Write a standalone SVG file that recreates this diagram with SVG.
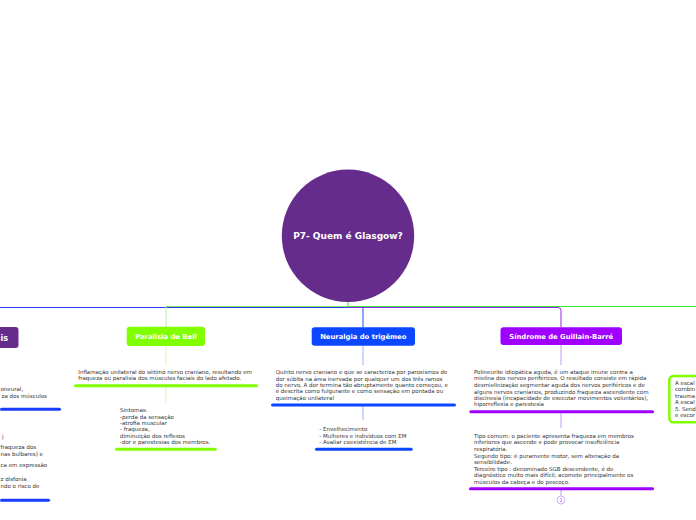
<svg xmlns="http://www.w3.org/2000/svg" width="696" height="520" viewBox="0 0 696 520">
<style>
.title{font-family:"DejaVu Sans",Verdana,sans-serif;font-weight:bold;fill:#fff;text-anchor:middle}
.body{font-family:"DejaVu Sans",Verdana,sans-serif;font-size:5.5px;fill:#333}
.ln{fill:none;stroke-width:1}
</style>
<rect width="696" height="520" fill="#fff"/>
<g id="connectors">
  <path class="ln" d="M348,302 V307" stroke="#33dd33"/>
  <path class="ln" d="M363,307.5 H0" stroke="#2a3cff"/>
  <path class="ln" d="M348,306.5 H166" stroke="#7be84a"/>
  <path class="ln" d="M348,307.5 H558 Q561,307.5 561,310.5 V327" stroke="#9b1ef0"/>
  <path class="ln" d="M348,306.5 H696" stroke="#33ee33"/>
  <path class="ln" d="M363,307.5 V327" stroke="#1a4cff"/>
  <path class="ln" d="M166,307 V327" stroke="#b9f58a"/>
  <path class="ln" d="M166,346 V365 M166,387 V403" stroke="#d4f7b8"/>
  <path class="ln" d="M363,346 V365 M363,406 V420" stroke="#9fb4ff"/>
  <path class="ln" d="M561,345 V365 M561,412 V428 M561,489 V496" stroke="#c79af5"/>
</g>
<g id="center">
  <circle cx="348" cy="235.8" r="66.2" fill="#652c8c"/>
  <text class="title" x="348" y="239.2" font-size="9">P7- Quem é Glasgow?</text>
</g>
<g id="left-node">
  <rect x="-6" y="327" width="24.5" height="21" rx="3" fill="#652c8c"/>
  <text class="title" x="0.5" y="341" font-size="8" style="text-anchor:start">is</text>
  <text class="body" x="0.5" y="391">oneural,</text>
  <text class="body" x="1.5" y="397.7">za dos músculos</text>
  <rect x="0" y="407.8" width="61" height="3" rx="1.5" fill="#1a3cff"/>
  <text class="body" x="1.5" y="439">)</text>
  <text class="body" x="0.5" y="448.7">fraqueza dos</text>
  <text class="body" x="0.5" y="455.7">nas bulbares) e</text>
  <text class="body" x="0.5" y="466.7">ca em expressão</text>
  <text class="body" x="0.5" y="481">z disfonia</text>
  <text class="body" x="0.5" y="487.7">ndo o risco de</text>
  <rect x="0" y="498.8" width="50" height="3" rx="1.5" fill="#1a3cff"/>
</g>
<g id="paralisia-de-bell">
  <rect x="126.7" y="326.7" width="78.3" height="19.3" rx="3" fill="#80ff00"/>
  <text class="title" x="166" y="339" font-size="6.8">Paralisia de Bell</text>
  <text class="body" x="78.3" y="374.3">Inflamação unilateral do sétimo nervo craniano, resultando em</text>
  <text class="body" x="78.3" y="380.3">fraqueza ou paralisia dos músculos faciais do lado afetado.</text>
  <rect x="74" y="384.3" width="184" height="3" rx="1.5" fill="#80ff00"/>
  <text class="body" x="120" y="412">Sintomas:</text>
  <text class="body" x="120" y="418.5">-perda da sensação</text>
  <text class="body" x="120" y="424.5">-atrofia muscular</text>
  <text class="body" x="120" y="431">- fraqueza,</text>
  <text class="body" x="120" y="438.2">diminuição dos reflexos</text>
  <text class="body" x="120" y="444.3">-dor e parestesias dos membros.</text>
  <rect x="115" y="447.8" width="101.7" height="3" rx="1.5" fill="#80ff00"/>
</g>
<g id="neuralgia-do-trigemeo">
  <rect x="311.7" y="327.3" width="103.3" height="18.4" rx="3" fill="#0b47ff"/>
  <text class="title" x="363.3" y="339" font-size="6.8">Neuralgia do trigêmeo</text>
  <text class="body" x="275.7" y="374.3">Quinto nervo craniano e que se caracteriza por paroxismos de</text>
  <text class="body" x="275.7" y="380.7">dor súbita na área inervada por qualquer um dos três ramos</text>
  <text class="body" x="275.7" y="387">do nervo, A dor termina tão abruptamente quanto começou, e</text>
  <text class="body" x="275.7" y="393.3">é descrita como fulgurante e como sensação em pontada ou</text>
  <text class="body" x="275.7" y="400">queimação unilateral</text>
  <rect x="271" y="403.5" width="185" height="3" rx="1.5" fill="#0b47ff"/>
  <text class="body" x="319.3" y="431">- Envelhecimento</text>
  <text class="body" x="319.3" y="438">- Mulheres e indivíduos com EM</text>
  <text class="body" x="319.3" y="444.3">- Avaliar coexistência de EM</text>
  <rect x="315" y="447.8" width="97.7" height="3" rx="1.5" fill="#0b47ff"/>
</g>
<g id="sindrome-de-guillain-barre">
  <rect x="500.5" y="327.3" width="121.5" height="17.7" rx="3" fill="#9f00ff"/>
  <text class="title" x="561.2" y="338.6" font-size="6.8">Síndrome de Guillain-Barré</text>
  <text class="body" x="474" y="373.7">Polineurite idiopática aguda, é um ataque imune contra a</text>
  <text class="body" x="474" y="380">mielina dos nervos periféricos. O resultado consiste em rápida</text>
  <text class="body" x="474" y="387">desmielinização segmentar aguda dos nervos periféricos e de</text>
  <text class="body" x="474" y="393.7">alguns nervos cranianos, produzindo fraqueza ascendente com</text>
  <text class="body" x="474" y="400">discinesia (incapacidade de executar movimentos voluntários),</text>
  <text class="body" x="474" y="406.3">hiporreflexia e parestesia</text>
  <rect x="469.3" y="410.2" width="184.7" height="3" rx="1.5" fill="#9f00ff"/>
  <text class="body" x="474" y="437.7">Tipo comum: o paciente apresenta fraqueza em membros</text>
  <text class="body" x="474" y="444.3">inferiores que ascende e pode provocar insuficiência</text>
  <text class="body" x="474" y="450.7">respiratória.</text>
  <text class="body" x="474" y="457.7">Segundo tipo: é puramente motor, sem alteração da</text>
  <text class="body" x="474" y="464">sensibilidade.</text>
  <text class="body" x="474" y="470.7">Terceiro tipo : denominado SGB descendente, é de</text>
  <text class="body" x="474" y="477">diagnóstico muito mais difícil; acomete principalmente os</text>
  <text class="body" x="474" y="483.7">músculos da cabeça e do pescoço.</text>
  <rect x="469" y="487.2" width="185" height="3" rx="1.5" fill="#9f00ff"/>
  <circle cx="561" cy="500" r="4" fill="#fff" stroke="#c79af5" stroke-width="0.8"/>
  <text x="561" y="501.8" font-family="DejaVu Sans, sans-serif" font-size="5" fill="#a040f0" text-anchor="middle">1</text>
</g>
<g id="right-node">
  <rect x="669.3" y="376" width="40" height="46.3" rx="4" fill="#fff" stroke="#80ff00" stroke-width="2.5"/>
  <text class="body" x="675" y="385.3">A escal</text>
  <text class="body" x="675" y="391.3">combin</text>
  <text class="body" x="675" y="398">trauma</text>
  <text class="body" x="675" y="404.3">A escal</text>
  <text class="body" x="675" y="410.7">5. Send</text>
  <text class="body" x="675" y="417">e escor</text>
</g>
</svg>
